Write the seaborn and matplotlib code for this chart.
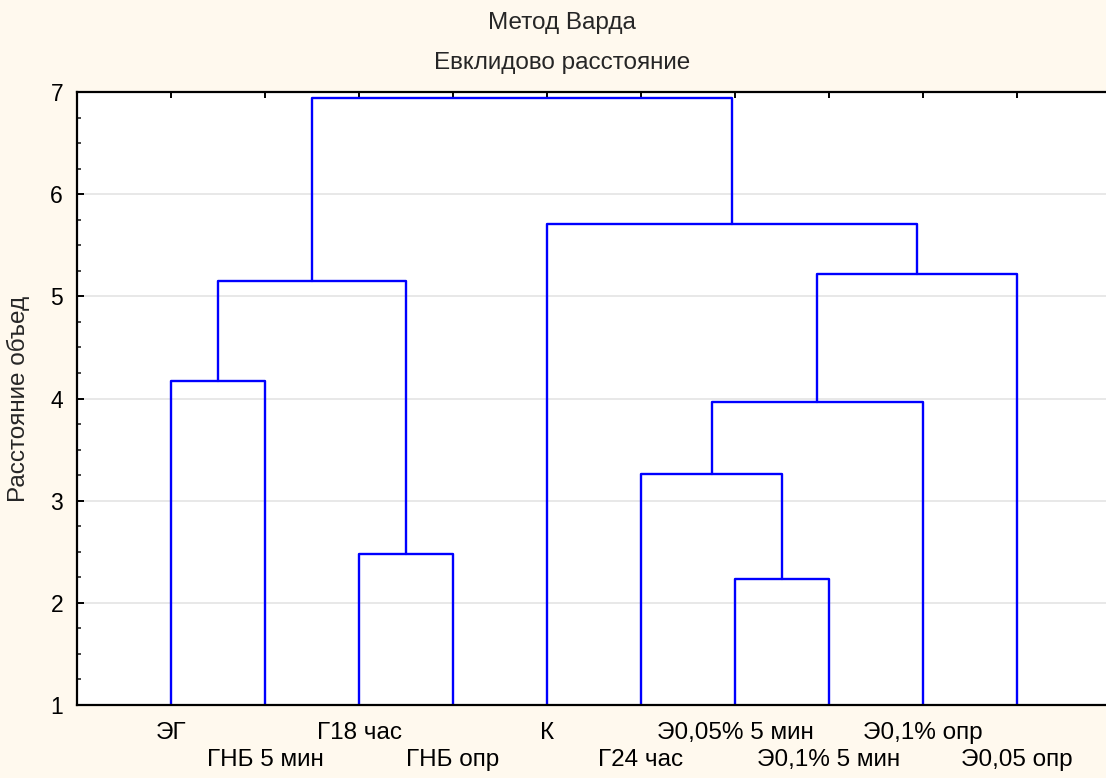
import pandas as pd
import seaborn as sns
import matplotlib.pyplot as plt
from matplotlib.ticker import MultipleLocator

# Leaves in dendrogram order
leaves = ['ЭГ', 'ГНБ 5 мин', 'Г18 час', 'ГНБ опр', 'К',
          'Г24 час', 'Э0,05% 5 мин', 'Э0,1% 5 мин', 'Э0,1% опр', 'Э0,05 опр']

# Merges: (left node, right node, height); nodes 0-9 are leaves, 10+ are merges
merge_left = [0, 2, 10, 6, 5, 14, 15, 4, 12]
merge_right = [1, 3, 11, 7, 13, 8, 9, 16, 17]
merge_height = [4.17, 2.48, 5.15, 2.23, 3.26, 3.97, 5.22, 5.71, 6.94]

base = 1.0

# Build the U-shaped links from the merge list
node_x = {i: i + 1 for i in range(len(leaves))}
node_y = {i: base for i in range(len(leaves))}
rows = []
for k, (a, b, h) in enumerate(zip(merge_left, merge_right, merge_height)):
    xa, xb = node_x[a], node_x[b]
    for x, y in [(xa, node_y[a]), (xa, h), (xb, h), (xb, node_y[b])]:
        rows.append({'link': k, 'x': x, 'y': y})
    node_x[len(leaves) + k] = (xa + xb) / 2
    node_y[len(leaves) + k] = h
links = pd.DataFrame(rows)

sns.set_style('white')
plt.rcParams['font.family'] = ['Liberation Sans', 'DejaVu Sans']

bg = '#FFF9EE'
fig = plt.figure(figsize=(11.06, 7.78), dpi=100, facecolor=bg)
ax = fig.add_axes([0.0696, 0.0938, 0.935, 0.7879])
ax.set_facecolor('white')

ax.yaxis.grid(True, color='#E4E4E4', linewidth=1.2)
ax.set_axisbelow(True)

sns.lineplot(data=links, x='x', y='y', units='link', estimator=None, sort=False,
             color='#0000FF', linewidth=1.7, ax=ax, legend=False)

ax.set_xlim(0, 11)
ax.set_ylim(1, 7)
ax.yaxis.set_major_locator(MultipleLocator(1))
ax.yaxis.set_minor_locator(MultipleLocator(0.25))
ax.set_xticks(range(1, len(leaves) + 1))
ax.set_xticklabels(leaves)

for side in ['left', 'top', 'bottom']:
    ax.spines[side].set_color('black')
    ax.spines[side].set_linewidth(1.6)
ax.spines['right'].set_visible(False)

ax.tick_params(axis='y', which='major', direction='in', length=5, width=1.4,
               left=True, labelsize=16.5, pad=10, colors='black')
ax.tick_params(axis='y', which='minor', direction='in', length=3, width=1.2, left=True)
ax.tick_params(axis='x', direction='in', length=4, width=1.4, bottom=True, top=True,
               labelsize=17.5, colors='black')
for i, t in enumerate(ax.xaxis.get_major_ticks()):
    t.set_pad(12 if i % 2 == 0 else 32)

ax.set_xlabel('')
ax.set_ylabel('Расстояние объед', fontsize=17.5)
ax.yaxis.set_label_coords(-0.0455, 0.5)

fig.text(562 / 1106, 1 - 23 / 778, 'Метод Варда', ha='center', va='center', fontsize=17.5)
fig.text(562 / 1106, 1 - 63 / 778, 'Евклидово расстояние', ha='center', va='center', fontsize=17.5)

plt.savefig('out.png', dpi=100, facecolor=bg)
